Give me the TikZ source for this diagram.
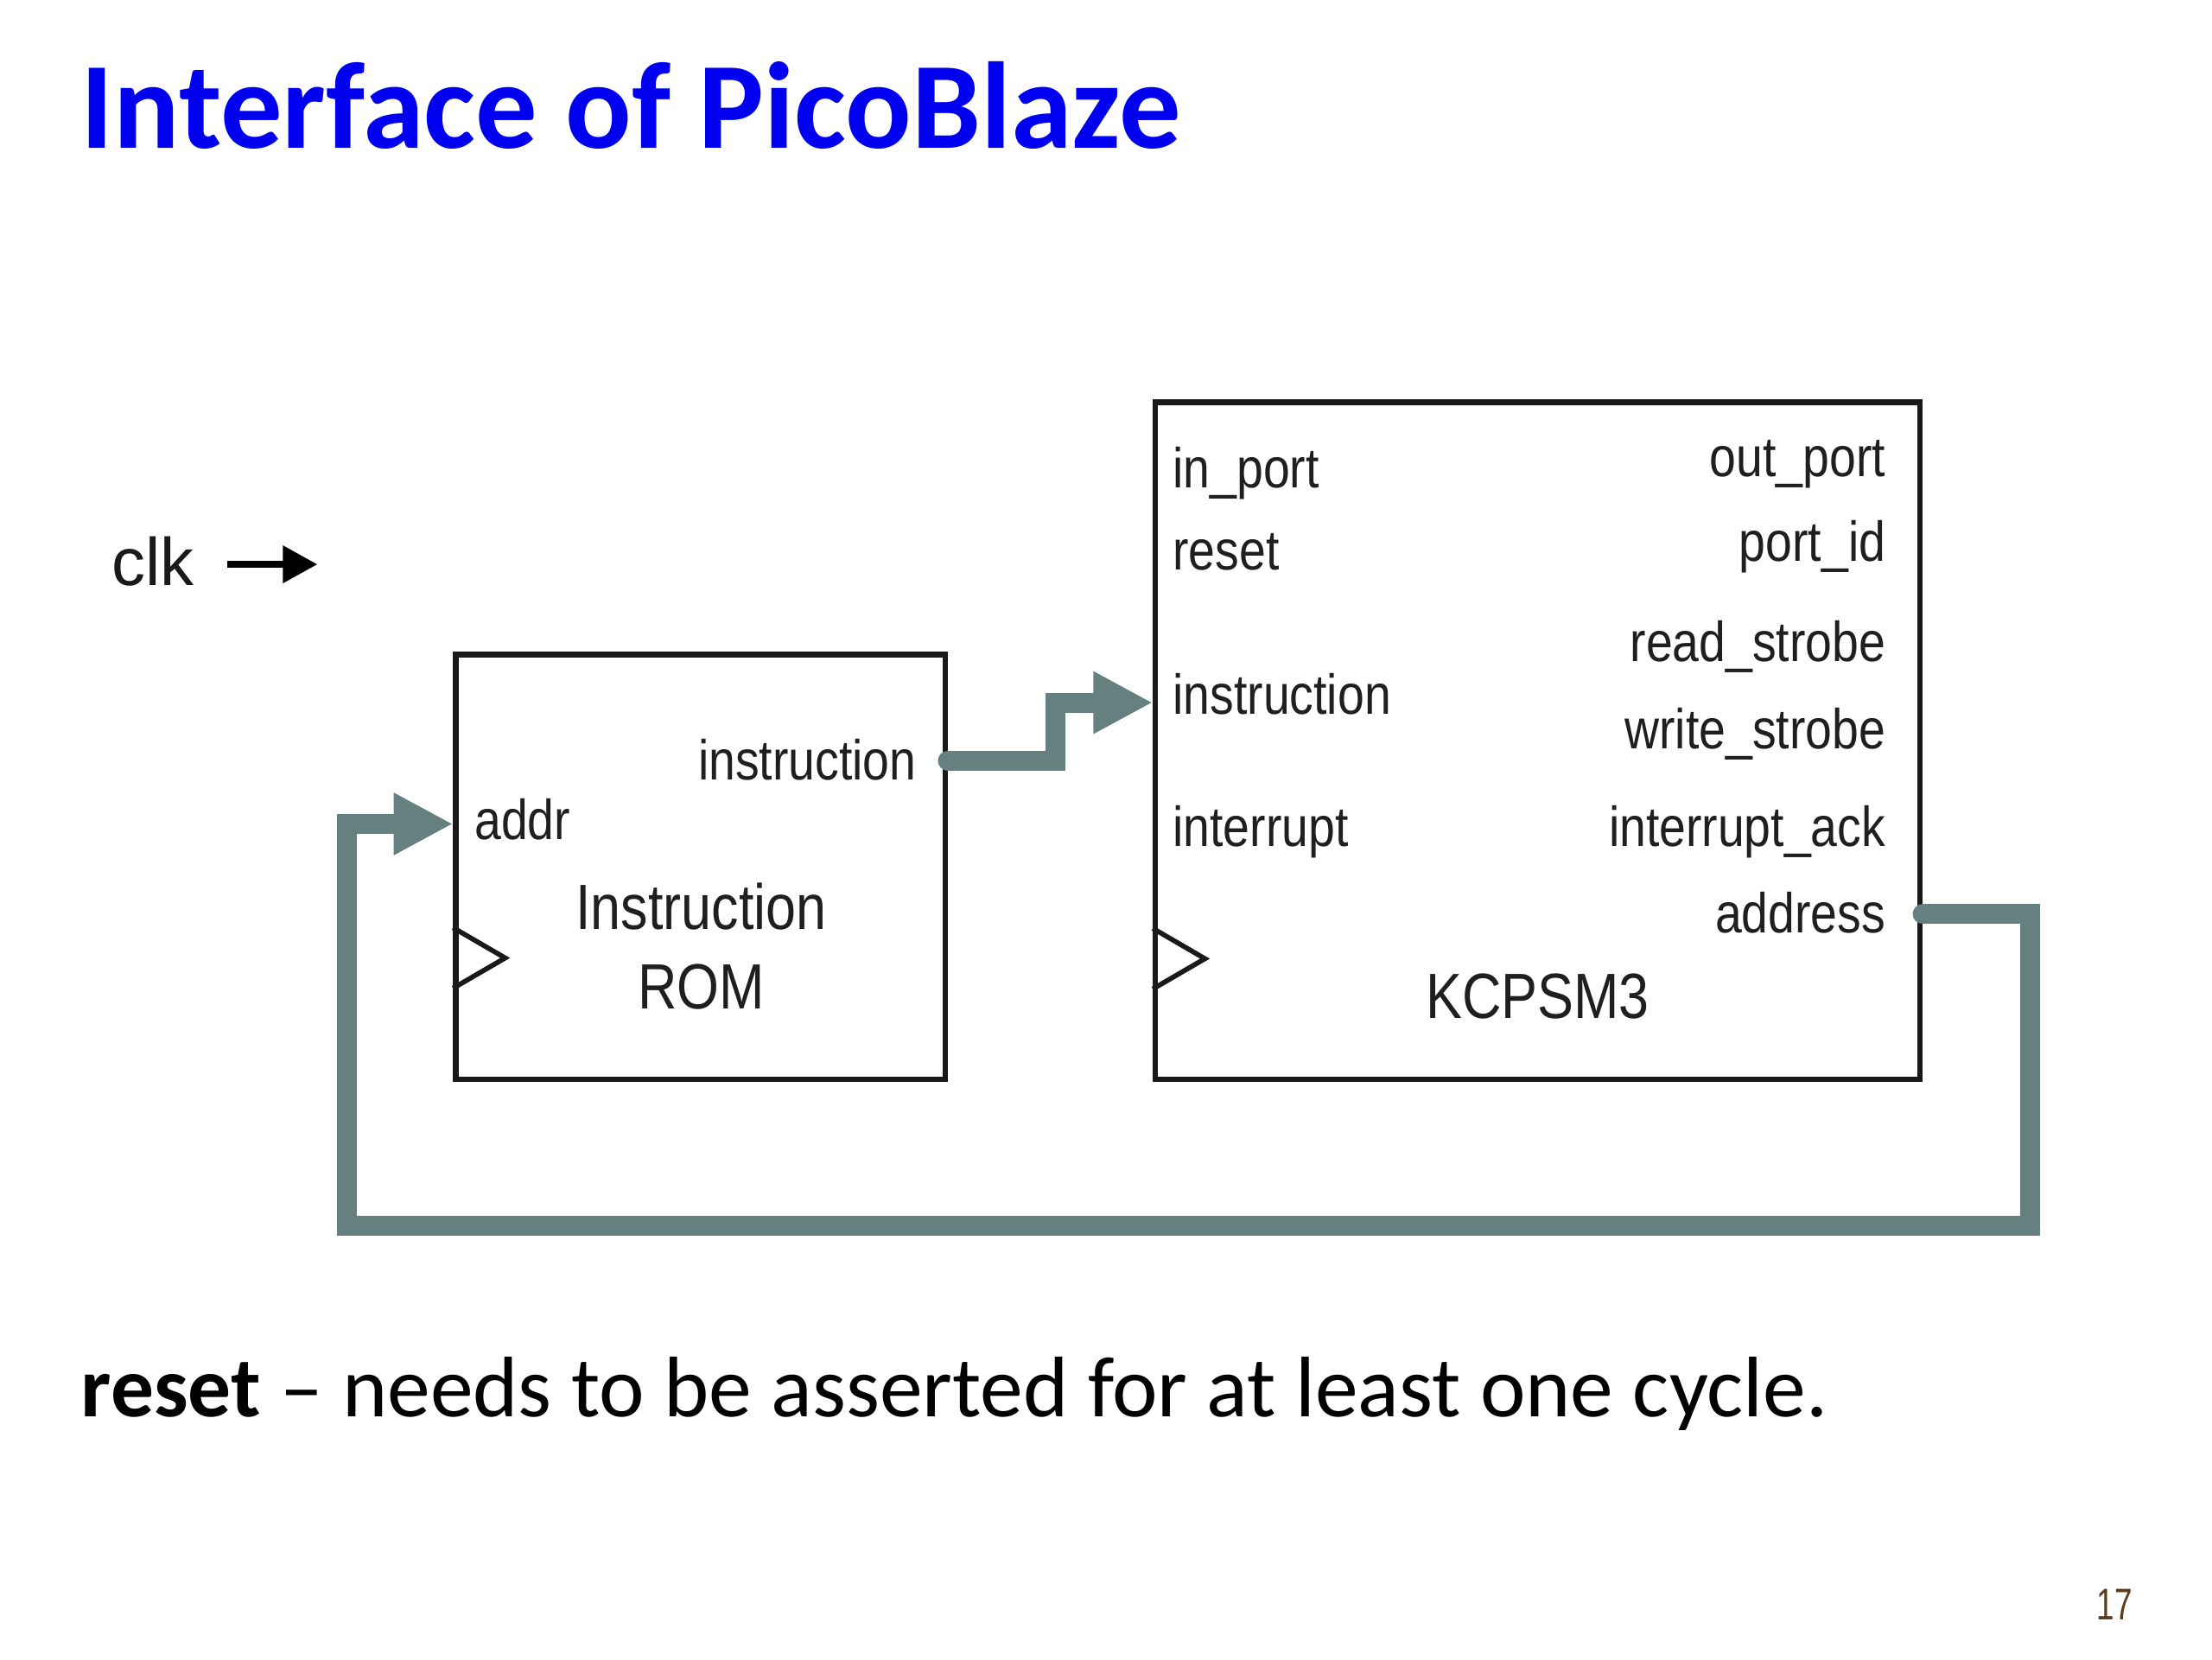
\documentclass[tikz,border=0pt]{standalone}
\usepackage{fontspec}
\setmainfont{Carlito}
\newfontfamily\diagfont[FakeStretch=0.85]{Liberation Sans}
\newfontfamily\pagefont[FakeStretch=0.72]{Liberation Sans}
\newfontfamily\plainsans{Liberation Sans}
\usetikzlibrary{positioning}
\usetikzlibrary{arrows.meta}
\definecolor{busgray}{RGB}{102,128,128}
\definecolor{titleblue}{RGB}{0,0,240}
\definecolor{pagebrown}{RGB}{90,60,30}
\tikzstyle{block} = [rectangle, draw=black!90, line width=1.8pt, inner sep=0pt]
\tikzstyle{port} = [inner sep=0pt, text=black!88, font=\diagfont\fontsize{18.4}{20}\selectfont]
\tikzstyle{blockname} = [inner sep=0pt, text=black!88, font=\diagfont\fontsize{20.9}{24}\selectfont]
\tikzstyle{clkmark} = [draw=black!90, line width=1.6pt, line join=miter]
\tikzstyle{bus} = [draw=busgray, line width=6.5pt, line cap=round, line join=miter, -{Triangle[length=19.4pt,width=19pt]}]
\tikzstyle{clkarrow} = [draw=black, line width=2.2pt, -{Triangle[length=11.3pt,width=11.8pt]}]

\begin{document}
\begin{tikzpicture}[x=0.016199cm, y=-0.016199cm, node distance=2cm]
        \useasboundingbox (0,0) rectangle (1568,1176);
        % title and footer
        \node (title) [anchor=base west, inner sep=0pt, text=titleblue, font=\bfseries\fontsize{40.3}{48}\selectfont] at (57,105) {Interface of PicoBlaze};
        \node (note) [anchor=base west, inner sep=0pt, font=\fontsize{28.1}{34}\selectfont] at (57,1004) {\textbf{reset} -- needs to be asserted for at least one cycle.};
        \node (pagenum) [anchor=base east, inner sep=0pt, text=pagebrown, font=\pagefont\fontsize{14.5}{16}\selectfont] at (1512,1148) {17};
        % clock
        \node (clk) [anchor=base west, inner sep=0pt, text=black!90, font=\plainsans\fontsize{22}{24}\selectfont] at (79,415) {clk};
        \coordinate (clkend) at (225,400);
        % blocks
        \node (rom) [block, minimum width=5.621cm, minimum height=4.876cm] at (496.5,614.5) {};
        \node (kcpsm) [block, minimum width=8.780cm, minimum height=7.776cm] at (1090,525) {};
        \draw [clkmark] (rom.west) ++(0,43) -- ++(37,21.5) -- ++(-37,21.5);
        \draw [clkmark] (kcpsm.west) ++(0,133) -- ++(37,21.5) -- ++(-37,21.5);
        % instruction ROM ports
        \node (romins) [port, anchor=base east] at (650,553) {instruction};
        \node (romaddr) [port, anchor=base west] at (336,595) {addr};
        \node (romname) [blockname, anchor=base] at (497,659) {Instruction};
        \node (romname2) [blockname, anchor=base] at (497,715) {ROM};
        % KCPSM3 ports
        \node (kinport) [port, anchor=base west] at (831,346) {in\_port};
        \node (kreset) [port, anchor=base west] at (831,404) {reset};
        \node (kins) [port, anchor=base west] at (831,506) {instruction};
        \node (kint) [port, anchor=base west] at (831,600) {interrupt};
        \node (koutport) [port, anchor=base east] at (1337,338) {out\_port};
        \node (kportid) [port, anchor=base east] at (1337,398) {port\_id};
        \node (kread) [port, anchor=base east] at (1337,469) {read\_strobe};
        \node (kwrite) [port, anchor=base east] at (1337,531) {write\_strobe};
        \node (kintack) [port, anchor=base east] at (1337,600) {interrupt\_ack};
        \node (kaddr) [port, anchor=base east] at (1337,661) {address};
        \node (kname) [blockname, anchor=base] at (1090,722) {KCPSM3};
        % connections
        \coordinate (loopr) at (1439,869);
        \coordinate (loopl) at (246,869);
        \draw [clkarrow] (clk.east |- clkend) ++(23,0) -- (clkend);
        \draw [bus] (rom.east |- 0,539) -- ++(76,0) |- (kcpsm.west |- 0,498);
        \draw [bus] (kcpsm.east |- 0,648) -| (loopr) -- (loopl) |- (rom.west |- 0,584);

    \end{tikzpicture}
\end{document}
